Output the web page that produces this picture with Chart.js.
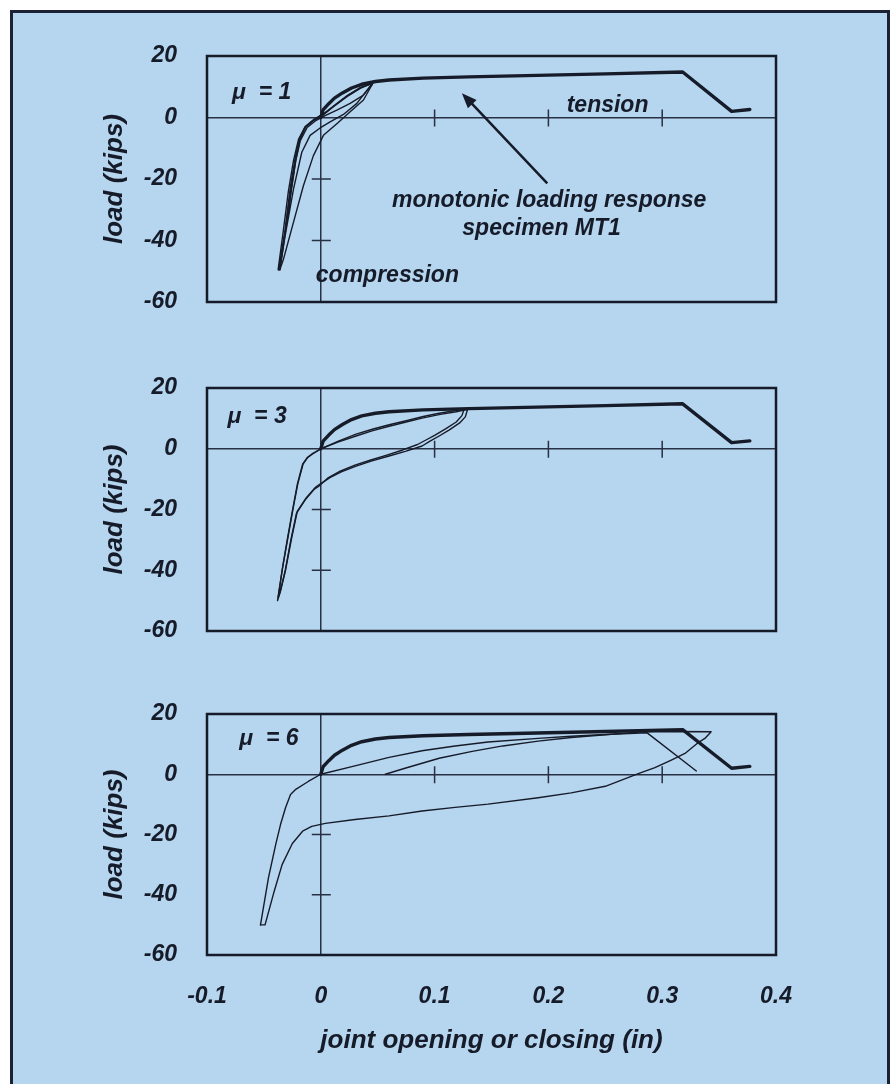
<!DOCTYPE html>
<html lang="en">
<head>
<meta charset="UTF-8">
<title>Joint opening vs load</title>
<script src="https://cdn.jsdelivr.net/npm/chart.js@4.4.1/dist/chart.umd.min.js"></script>
<style>
  html, body { margin: 0; padding: 0; background: #fff; overflow: hidden; }
  #page { position: relative; width: 896px; height: 1084px; overflow: hidden; }
  #frame { position: absolute; left: 10px; top: 10px; width: 880px; height: 1100px;
           box-sizing: border-box; border: 3px solid #1c2233; background: #b6d5ee; }
  canvas { position: absolute; left: 0; top: 0; }
</style>
</head>
<body>
<div id="page">
  <div id="frame"></div>
  <canvas id="mu1" width="896" height="1084"></canvas>
  <canvas id="mu3" width="896" height="1084"></canvas>
  <canvas id="mu6" width="896" height="1084"></canvas>
</div>
<script>
// axes
const xTicks = [-0.1, 0, 0.1, 0.2, 0.3, 0.4];
const xTickLabels = ['-0.1', '0', '0.1', '0.2', '0.3', '0.4'];
const yTicks = [-60, -40, -20, 0, 20];
const yTickLabels = ['-60', '-40', '-20', '0', '20'];
const innerXTicks = [0.1, 0.2, 0.3];
const innerYTicks = [-20, -40];

// monotonic loading response, specimen MT1 (same in every panel)
const monotonic = [[0, 0], [0.002, 2.5], [0.007, 4.5], [0.012, 6.3], [0.019, 8], [0.027, 9.6],
  [0.036, 10.8], [0.048, 11.7], [0.06, 12.2], [0.09, 12.8], [0.13, 13.2], [0.19, 13.7],
  [0.25, 14.2], [0.318, 14.8], [0.361, 2.0], [0.377, 2.6]];

// mu = 1 cycles
const mu1CycleA = [[-0.037, -49.5], [-0.0314, -36.4], [-0.027, -23.3], [-0.0226, -13.4], [-0.0188, -6.9],
  [-0.0138, -3.0], [-0.0065, -0.9], [0.0023, 1.0], [0.011, 3.5], [0.0229, 6.8], [0.0346, 9.5], [0.0449, 11.1],
  [0.045, 10.6], [0.0375, 7.3], [0.0258, 4.6], [0.0141, 2.4], [0.0038, 0.6], [-0.004, -0.9], [-0.012, -3.2],
  [-0.018, -7.5], [-0.022, -14], [-0.026, -24], [-0.031, -37], [-0.036, -49.5]];
const mu1CycleB = [[-0.036, -49.5], [-0.0305, -36.4], [-0.026, -23.3], [-0.0218, -13.4], [-0.018, -6.9],
  [-0.013, -2.8], [-0.006, -0.6], [0.003, 1.4], [0.012, 4.0], [0.0235, 7.2], [0.035, 9.8], [0.045, 11.0],
  [0.0317, 4.6], [0.0199, 1.0], [0.0082, -1.4], [-0.0006, -3.4], [-0.0094, -5.8], [-0.0167, -11.3],
  [-0.024, -23.3], [-0.0314, -38.6], [-0.036, -48], [-0.037, -49.5]];
const mu1CycleC = [[-0.0375, -49.5], [-0.033, -37], [-0.0285, -24], [-0.024, -14], [-0.0195, -7],
  [-0.014, -3.2], [-0.007, -1.1], [0.002, 0.8], [0.012, 3.8], [0.024, 7.2], [0.036, 9.9], [0.046, 11.3],
  [0.0375, 5.7], [0.0258, 1.9], [0.0141, -2.0], [0.0023, -5.8], [-0.0065, -12.4], [-0.0153, -22.2],
  [-0.0241, -34.2], [-0.0329, -46.2], [-0.036, -49.5]];

// mu = 3 cycles
const mu3CycleA = [[-0.038, -50], [-0.034, -40], [-0.0295, -30], [-0.025, -20.5], [-0.0206, -11.7],
  [-0.016, -5.1], [-0.012, -3], [-0.0075, -1.8], [0, 0], [0.015, 2.2], [0.031, 4.2], [0.045, 5.9],
  [0.06, 7.4], [0.075, 8.8], [0.089, 10.1], [0.105, 11.3], [0.119, 12.2], [0.129, 13],
  [0.127, 10.5], [0.122, 8.5], [0.113, 6.2], [0.104, 4.2], [0.096, 2.5], [0.089, 0.9], [0.075, -0.8],
  [0.06, -2.4], [0.045, -4.0], [0.031, -5.7], [0.018, -7.6], [0.008, -9.5], [-0.001, -11.7],
  [-0.0044, -12.6], [-0.0127, -16.1], [-0.0206, -20.5], [-0.0256, -29.3], [-0.031, -40], [-0.0355, -47],
  [-0.038, -50]];
const mu3CycleB = [[-0.0375, -49], [-0.0335, -39], [-0.029, -29.5], [-0.0245, -20], [-0.0202, -11.5],
  [-0.0155, -5.0], [-0.0115, -2.8], [-0.007, -1.5], [0.001, 0.1], [0.016, 2.6], [0.031, 4.8], [0.046, 6.5],
  [0.061, 8.0], [0.076, 9.3], [0.09, 10.6], [0.104, 11.7], [0.117, 12.5], [0.126, 13.1],
  [0.124, 10.9], [0.119, 8.8], [0.11, 6.6], [0.1, 4.4], [0.092, 2.8], [0.085, 1.4], [0.072, -0.4],
  [0.058, -2.1], [0.044, -3.7], [0.03, -5.4], [0.017, -7.4], [0.006, -9.7], [-0.002, -12.4],
  [-0.006, -13.4], [-0.0137, -16.8], [-0.0214, -21.3], [-0.0263, -30], [-0.0315, -40.5], [-0.0358, -47.2],
  [-0.0375, -49]];

// mu = 6 cycles
const mu6CycleA = [[-0.053, -50], [-0.046, -34.4], [-0.0396, -23.3], [-0.0354, -16.7], [-0.031, -11.1],
  [-0.0266, -6.7], [-0.022, -5], [-0.011, -2.4], [0, 0], [0.03, 2.8], [0.06, 5.6], [0.089, 7.8],
  [0.118, 9.4], [0.147, 10.7], [0.191, 11.9], [0.22, 12.6], [0.25, 13.2], [0.2865, 13.8], [0.33, 1.1]];
const mu6CycleB = [[0.0567, 0], [0.074, 2], [0.104, 5.3], [0.133, 7.6], [0.16, 9.4], [0.191, 11],
  [0.22, 12.2], [0.25, 13.1], [0.279, 14], [0.31, 14.2], [0.343, 14.1], [0.3375, 11.9], [0.332, 10.6],
  [0.32, 6.9], [0.308, 4.7], [0.2936, 2.2], [0.279, 0.2], [0.25, -4], [0.22, -6.2], [0.191, -7.8],
  [0.147, -9.9], [0.118, -11], [0.089, -12.2], [0.06, -13.8], [0.03, -15], [0.004, -16.3],
  [-0.008, -17.3], [-0.016, -18.9], [-0.025, -23], [-0.034, -30], [-0.041, -38.9], [-0.049, -50],
  [-0.053, -50]];

const ink = '#161b29';
const axisInk = '#283044';
const family = '"Liberation Sans", Arial, Helvetica, sans-serif';
const tickFont = { family: family, size: 23, weight: 'bold', style: 'italic' };
const titleFont = { family: family, size: 26, weight: 'bold', style: 'italic' };

function curve(pts, width) {
    return {
        data: pts.map(([x, y]) => ({ x: x, y: y })),
        showLine: true,
        borderColor: ink,
        borderWidth: width,
        pointRadius: 0,
        fill: false,
        tension: 0,
        borderJoinStyle: 'round',
        borderCapStyle: 'round'
    };
}

// inner axis ticks, frame, text notes and arrow
function extras(panel) {
    return {
        id: 'extras',
        beforeDatasetsDraw(chart) {
            const { ctx, scales: { x, y } } = chart;
            const x0 = x.getPixelForValue(0), y0 = y.getPixelForValue(0);
            ctx.save();
            ctx.strokeStyle = axisInk;
            ctx.lineWidth = 1.5;
            ctx.beginPath();
            innerXTicks.forEach(v => {
                const px = x.getPixelForValue(v);
                ctx.moveTo(px, y0 - 8);
                ctx.lineTo(px, y0 + 9);
            });
            innerYTicks.forEach(v => {
                const py = y.getPixelForValue(v);
                ctx.moveTo(x0 - 9, py);
                ctx.lineTo(x0 + 10, py);
            });
            ctx.stroke();
            ctx.restore();
        },
        afterDatasetsDraw(chart) {
            const { ctx, chartArea: a, scales: { x, y } } = chart;
            ctx.save();
            ctx.strokeStyle = ink;
            ctx.lineWidth = 2.5;
            ctx.strokeRect(a.left, a.top, a.right - a.left, a.bottom - a.top);

            ctx.fillStyle = ink;
            ctx.font = 'italic bold 23px ' + family;
            ctx.textAlign = 'center';
            ctx.textBaseline = 'middle';
            panel.notes.forEach(n => {
                ctx.fillText(n.text, x.getPixelForValue(n.x), y.getPixelForValue(n.y));
            });

            if (panel.arrow) {
                const tx = x.getPixelForValue(panel.arrow.from[0]), ty = y.getPixelForValue(panel.arrow.from[1]);
                const hx = x.getPixelForValue(panel.arrow.to[0]), hy = y.getPixelForValue(panel.arrow.to[1]);
                const ang = Math.atan2(hy - ty, hx - tx);
                ctx.lineWidth = 2.5;
                ctx.beginPath();
                ctx.moveTo(tx, ty);
                ctx.lineTo(hx - 10 * Math.cos(ang), hy - 10 * Math.sin(ang));
                ctx.stroke();
                ctx.beginPath();
                ctx.moveTo(hx, hy);
                ctx.lineTo(hx - 15 * Math.cos(ang) + 6 * Math.sin(ang), hy - 15 * Math.sin(ang) - 6 * Math.cos(ang));
                ctx.lineTo(hx - 15 * Math.cos(ang) - 6 * Math.sin(ang), hy - 15 * Math.sin(ang) + 6 * Math.cos(ang));
                ctx.closePath();
                ctx.fill();
            }
            ctx.restore();
        }
    };
}

function makePanel(id, panel) {
    const datasets = panel.cycles.map(c => curve(c, 1.4));
    datasets.push(curve(monotonic, 3.4));
    new Chart(document.getElementById(id), {
        type: 'scatter',
        data: { datasets: datasets },
        options: {
            responsive: false,
            animation: false,
            events: [],
            layout: { padding: { top: panel.top, bottom: panel.bottomPad, left: 0, right: 120 } },
            plugins: { legend: { display: false }, tooltip: { enabled: false } },
            scales: {
                x: {
                    type: 'linear',
                    min: -0.1,
                    max: 0.4,
                    afterBuildTicks: s => { s.ticks = xTicks.map(v => ({ value: v })); },
                    afterFit: s => { s.height = panel.xHeight; },
                    ticks: {
                        display: panel.showX,
                        padding: 28,
                        maxRotation: 0,
                        autoSkip: false,
                        font: tickFont,
                        color: ink,
                        callback: (v, i) => xTickLabels[i]
                    },
                    grid: {
                        drawTicks: false,
                        lineWidth: 1.5,
                        color: c => (c.tick && c.tick.value === 0) ? axisInk : 'rgba(0,0,0,0)'
                    },
                    border: { display: false },
                    title: {
                        display: panel.showX,
                        text: 'joint opening or closing (in)',
                        font: titleFont,
                        color: ink,
                        padding: { top: 0, bottom: 28 }
                    }
                },
                y: {
                    type: 'linear',
                    min: -60,
                    max: 20,
                    afterBuildTicks: s => { s.ticks = yTicks.map(v => ({ value: v })); },
                    afterFit: s => { s.width = 207; },
                    ticks: {
                        padding: 30,
                        font: tickFont,
                        color: ink,
                        callback: (v, i) => yTickLabels[i]
                    },
                    grid: {
                        drawTicks: false,
                        lineWidth: 1.5,
                        color: c => (c.tick && c.tick.value === 0) ? axisInk : 'rgba(0,0,0,0)'
                    },
                    border: { display: false },
                    title: {
                        display: true,
                        text: 'load (kips)',
                        font: titleFont,
                        color: ink,
                        padding: { top: 99, bottom: 0 }
                    }
                }
            }
        },
        plugins: [extras(panel)]
    });
}

makePanel('mu1', {
    top: 56, bottomPad: 1084 - 302, xHeight: 0, showX: false,
    cycles: [mu1CycleA, mu1CycleB, mu1CycleC],
    notes: [
        { text: 'μ  = 1', x: -0.052, y: 8.0 },
        { text: 'tension', x: 0.252, y: 3.8 },
        { text: 'monotonic loading response', x: 0.2007, y: -27 },
        { text: 'specimen MT1', x: 0.194, y: -36 },
        { text: 'compression', x: 0.0585, y: -51.4 }
    ],
    arrow: { from: [0.199, -21.4], to: [0.124, 7.9] }
});

makePanel('mu3', {
    top: 388, bottomPad: 1084 - 631, xHeight: 0, showX: false,
    cycles: [mu3CycleA, mu3CycleB],
    notes: [{ text: 'μ  = 3', x: -0.056, y: 10.7 }]
});

makePanel('mu6', {
    top: 714, bottomPad: 0, xHeight: 1084 - 955, showX: true,
    cycles: [mu6CycleA, mu6CycleB],
    notes: [{ text: 'μ  = 6', x: -0.0456, y: 11.7 }]
});
</script>
</body>
</html>
